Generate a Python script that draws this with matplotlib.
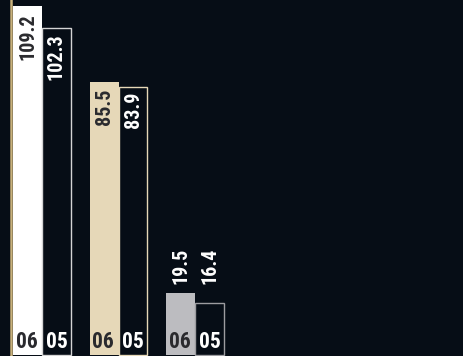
import matplotlib
matplotlib.use("Agg")
import matplotlib.pyplot as plt

# values per group: this year ('06) vs last year ('05)
groups = ["A", "B", "C"]
vals_06 = [109.2, 85.5, 19.5]
vals_05 = [102.3, 83.9, 16.4]
year_labels = ["06", "05"]

bg = "#060d16"
fills_06 = ["#ffffff", "#e6d8b8", "#bcbcc0"]
edges_05 = ["#d4d4d4", "#e6d8b8", "#9c9ca0"]
text_on_light = "#2a2a2e"

plt.rcParams["font.family"] = ["Roboto Condensed", "DejaVu Sans"]

fig = plt.figure(figsize=(4.63, 3.56), dpi=100, facecolor=bg)
ax = fig.add_axes([0, 0, 1, 1])
ax.set_facecolor(bg)
ax.axis("off")

w = 0.379
xs = list(range(len(groups)))
ax.set_xlim(-0.549, 5.503)
ax.set_ylim(-0.31, 111.2)

# gold rule on the left
ax.axvline(-w - 0.02, color="#c9b27c", lw=1.8)

ax.bar([x - w / 2 for x in xs], vals_06, width=w, color=fills_06, linewidth=0)
ax.bar([x + w / 2 for x in xs], vals_05, width=w, color=bg,
       edgecolor=edges_05, linewidth=1.0)

lbl = dict(rotation=90, ha="center", fontsize=14.5, fontweight="bold",
           textcoords="offset pixels")
for i, x in enumerate(xs):
    v6, v5 = vals_06[i], vals_05[i]
    if v6 > 40:
        # labels inside the top of each bar
        ax.annotate(f"{v6:.1f}", (x - w / 2, v6), xytext=(0, -6.5), va="top",
                    color=text_on_light, **lbl)
        ax.annotate(f"{v5:.1f}", (x + w / 2, v5), xytext=(0, -4.5), va="top",
                    color="white", **lbl)
    else:
        # short bars: labels sit above the pair
        top = max(v6, v5)
        for xx, v in [(x - w / 2, v6), (x + w / 2, v5)]:
            ax.annotate(f"{v:.1f}", (xx, top), xytext=(0, 8.5), va="bottom",
                        color="white", **lbl)
    ax.annotate(year_labels[0], (x - w / 2, 0), xytext=(-1, 7), textcoords="offset pixels",
                ha="center", va="baseline", fontsize=15.5, fontweight="bold",
                color=text_on_light)
    ax.annotate(year_labels[1], (x + w / 2, 0), xytext=(0, 7), textcoords="offset pixels",
                ha="center", va="baseline", fontsize=15.5, fontweight="bold",
                color="white")

fig.savefig("out.png", dpi=100, facecolor=bg)
